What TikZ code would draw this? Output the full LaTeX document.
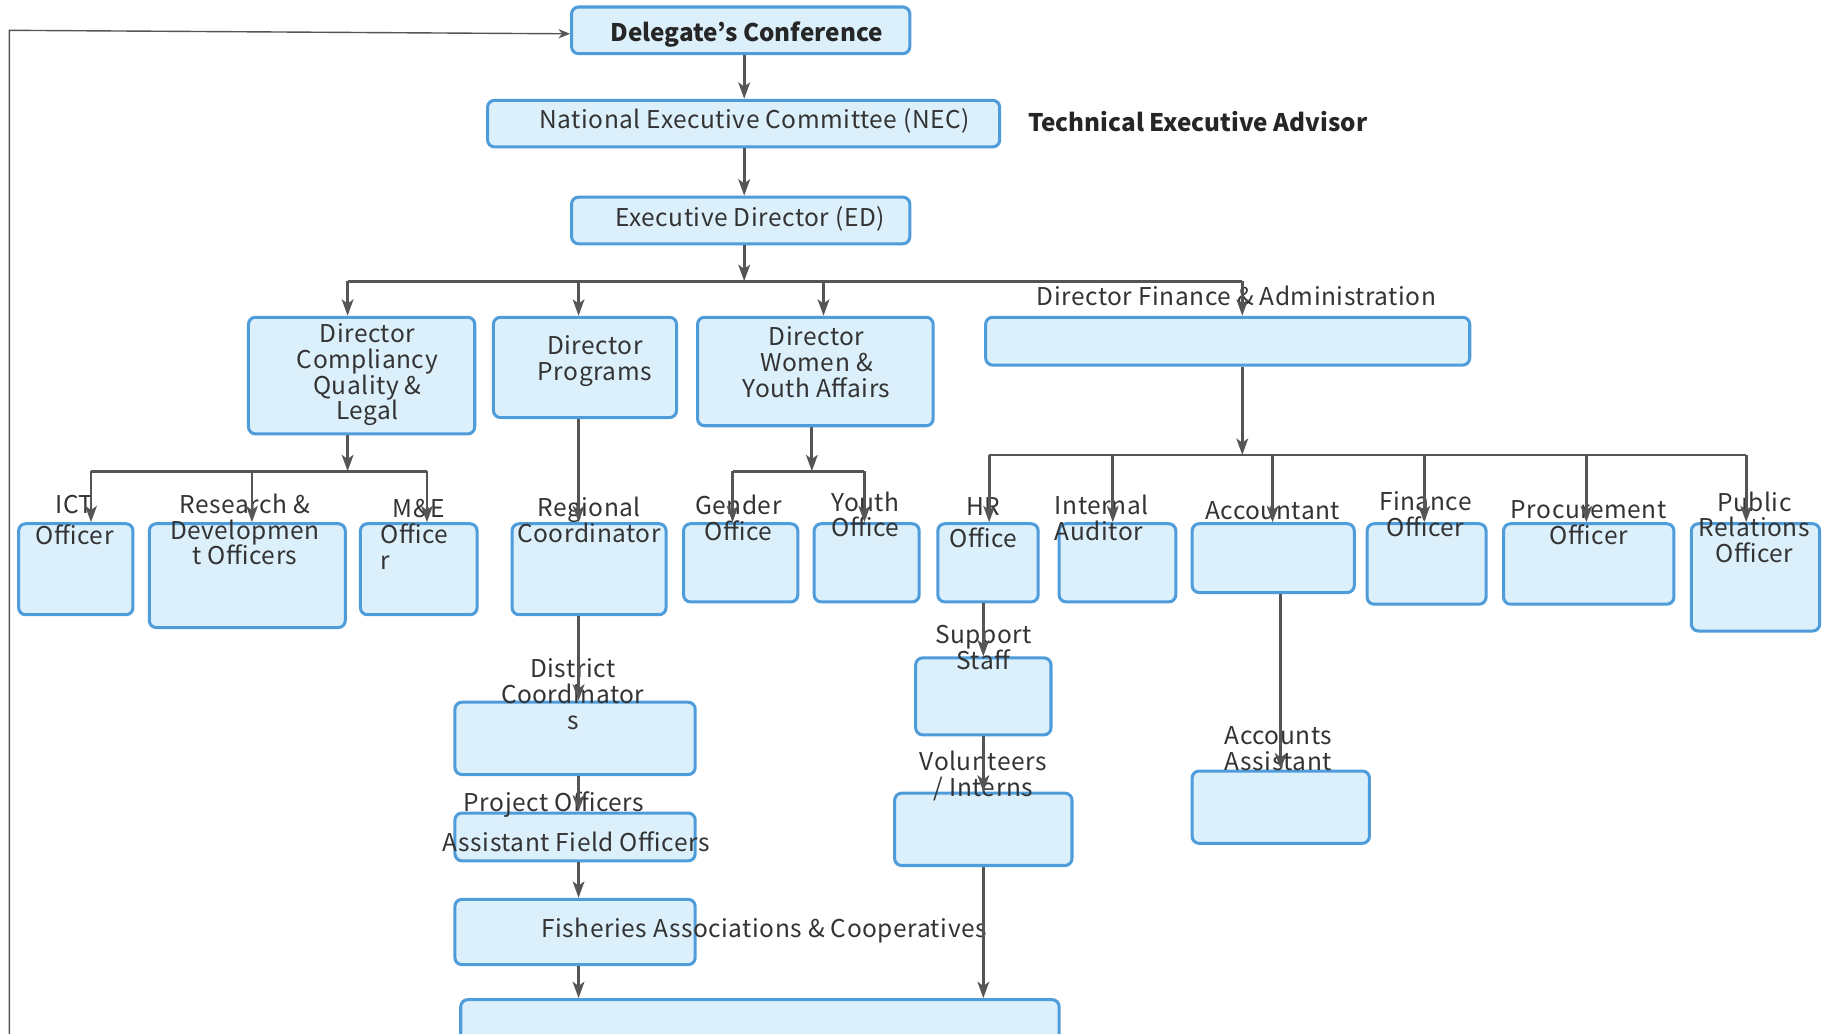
\documentclass[tikz,border=0pt]{standalone}
\usepackage{fontspec}
\setmainfont{Noto Sans CJK JP}[LetterSpace=2.2]
\newfontfamily\titlefont{Noto Sans CJK JP}
\usetikzlibrary{arrows.meta, positioning}
\usepackage{xcolor}
\definecolor{boxfill}{HTML}{DCF0FC}
\definecolor{boxline}{HTML}{4F9CDA}
\definecolor{linkgray}{HTML}{555555}
\definecolor{textgray}{HTML}{333333}
\def\u{0.5pt}

\begin{document}
\begin{tikzpicture}[x=\u, y=-\u, font=\fontsize{10.5}{11}\selectfont, text=textgray]
    \tikzstyle{unit}=[rectangle, rounded corners=3pt, draw=boxline, fill=boxfill, line width=1.3pt, inner sep=0pt]
    \tikzstyle{role}=[align=center, inner sep=0pt, yshift=-1pt]
    \tikzstyle{head}=[role, font=\titlefont\fontsize{10.4}{11}\selectfont\bfseries, text=black!85]
    \tikzstyle{link}=[draw=linkgray, line width=1.2pt]
    \tikzstyle{arr}=[link, -{Stealth[length=7pt, width=5pt, inset=1.8pt]}]
    \tikzstyle{fb}=[draw=linkgray, line width=0.6pt, {Stealth[length=5pt, width=4pt]}-{Stealth[length=5pt, width=4pt]}]

    \useasboundingbox (0,0) rectangle (1568,886);
    \clip (0,0) rectangle (1568,886);

    % Draw the boxes
    \foreach \name/\cx/\cy/\w/\h in {dc/635/26/290/40, nec/637.5/106/439/40, ed/635/189/290/40,
        cql/310/322/194/100, prog/501.5/315/157/86, wya/699/318.5/202/93, fin/1052.5/292.5/415/41,
        ict/65/488/98/78, rd/212/493.5/168/89, me/359/488/100/78, rc/505/488/132/78,
        go/635/482.5/98/67, yo/743/482.5/90/67, hr/847/482.5/86/67, ia/958/482.5/100/67,
        acc/1091.5/478.5/139/59, fo/1223/483.5/102/69, pro/1362/483.5/146/69, pr/1505/495/110/92,
        dcs/493/633/206/62, afo/493/717.5/206/41, fac/493/799/206/56,
        ss/843/597/116/66, vi/843/711/152/62, aa/1098/692/152/62, bot/651.5/891/513/68}
        \node[unit, minimum width=\w*\u, minimum height=\h*\u] (\name) at (\cx,\cy) {};

    % Draw the titles
    \node[head] (dc-t) at (640,28) {Delegate’s Conference};
    \node[head, anchor=west] (tea) at (881,102) {Technical Executive Advisor};
    \foreach \name/\cx/\cy/\txt in {nec/647/102/{National Executive Committee (NEC)}, ed/643/186/{Executive Director (ED)},
        cql/315/319.5/{Director\\Compliancy\\Quality \&\\Legal}, prog/510/307.5/{Director\\Programs},
        wya/700/308.5/{Director\\Women \&\\Youth Affairs}, fin/1060/252/{Director Finance \& Administration},
        ict/64/444/{ICT\\[2.5pt]Officer}, rd/210/452/{Research \&\\Developmen\\t Officers},
        rc/505/444/{Regional\\Coordinator}, go/633/442/{Gender\\Office}, yo/742/439/{Youth\\Office},
        hr/843/446/{HR\\[2.5pt]Office}, acc/1091/436/{Accountant}, fo/1222/439/{Finance\\Officer},
        pro/1362/446/{Procurement\\Officer}, pr/1504/450/{Public\\Relations\\Officer},
        dcs/491/593/{District\\Coordinator\\s}, po/475/688/{Project Officers},
        afo/494/720/{Assistant Field Officers}, fac/655/796/{Fisheries Associations \& Cooperatives},
        ss/843/553/{Support\\Staff}, vi/843/663/{Volunteers\\/ Interns}, aa/1096/640/{Accounts\\Assistant}}
        \node[role] (\name-t) at (\cx,\cy) {\txt};
    \node[role, align=left, anchor=west] (me-t) at (326,456) {~~M\&E\\Office\\r};
    \node[role, align=left, anchor=west] (ia-t) at (904,442) {Internal\\Auditor};

    % Draw the top chain
    \coordinate (bus1) at (638,241);
    \draw[arr] (638,0 |- dc.south) -- (638,0 |- nec.north);
    \draw[arr] (638,0 |- nec.south) -- (638,0 |- ed.north);
    \draw[arr] (638,0 |- ed.south) -- (bus1);
    \draw[link] (298,0 |- bus1) -- (1065,0 |- bus1);
    \foreach \dest/\x in {cql/298, prog/496, wya/706, fin/1065}
        \draw[arr] (\x,0 |- bus1) -- (\x,0 |- \dest.north);

    % Compliancy branch
    \coordinate (bus2) at (298,404);
    \draw[arr] (298,0 |- cql.south) -- (bus2);
    \draw[link] (78,0 |- bus2) -- (366,0 |- bus2);
    \foreach \dest/\x in {ict/78, rd/216, me/366}
        \draw[arr] (\x,0 |- bus2) -- (\x,0 |- \dest.north);

    % Women & youth branch
    \coordinate (bus3) at (696,404);
    \draw[arr] (696,0 |- wya.south) -- (bus3);
    \draw[link] (628,0 |- bus3) -- (741,0 |- bus3);
    \foreach \dest/\x in {go/628, yo/741}
        \draw[arr] (\x,0 |- bus3) -- (\x,0 |- \dest.north);

    % Finance branch
    \coordinate (bus4) at (1065,390);
    \draw[arr] (1065,0 |- fin.south) -- (bus4);
    \draw[link] (848,0 |- bus4) -- (1497,0 |- bus4);
    \foreach \dest/\x in {hr/848, ia/954, acc/1091, fo/1221, pro/1360, pr/1497}
        \draw[arr] (\x,0 |- bus4) -- (\x,0 |- \dest.north);

    % Straight chains
    \foreach \source/\dest/\x in {prog/rc/496, rc/dcs/496, dcs/afo/496, afo/fac/496, fac/bot/496,
        hr/ss/843, ss/vi/843, vi/bot/843, acc/aa/1098}
        \draw[arr] (\x,0 |- \source.south) -- (\x,0 |- \dest.north);

    % Feedback to the conference
    \draw[fb] (bot.west) -- (8,0 |- bot.west) -- (8,0 |- dc.west) -- ([yshift=-1.5pt]dc.west);
\end{tikzpicture}
\end{document}
